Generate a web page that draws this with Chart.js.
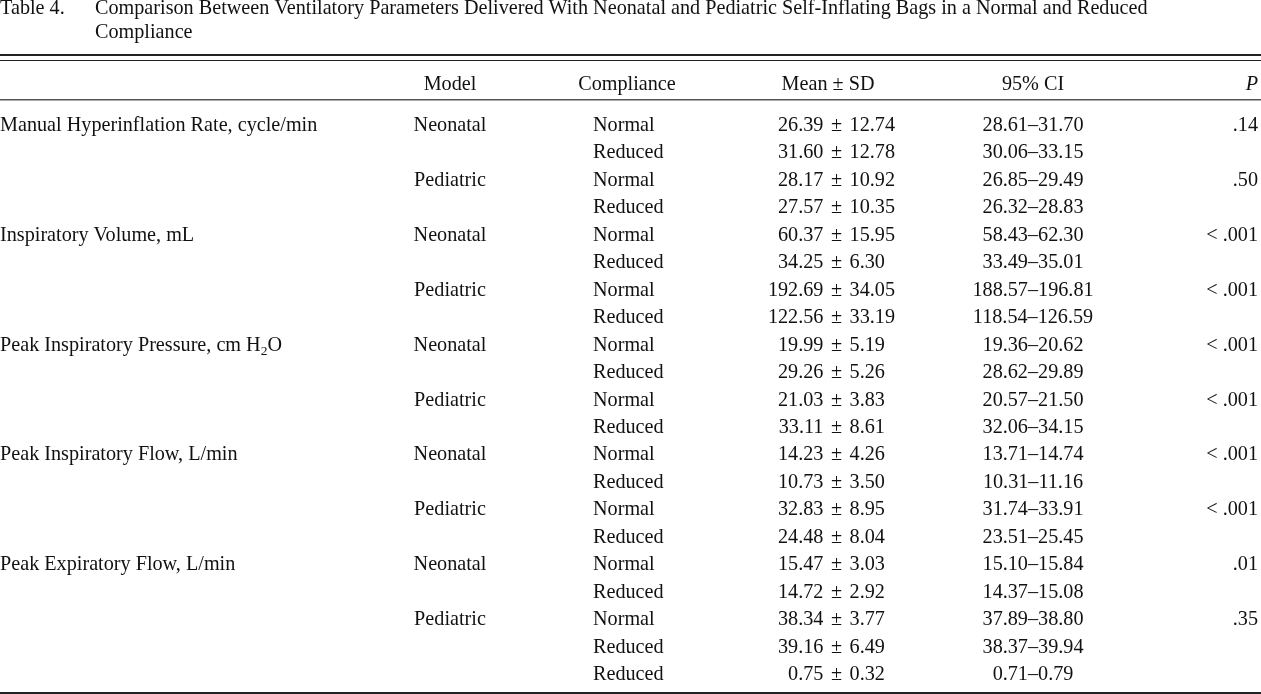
<!DOCTYPE html>
<html>
<head>
<meta charset="utf-8">
<title>Table 4</title>
<script src="https://cdn.jsdelivr.net/npm/chart.js@4"></script>
<style>
  html, body { margin: 0; padding: 0; background: #fff; }
  #wrap { width: 1261px; height: 694px; position: relative; }
</style>
</head>
<body>
<div id="wrap"><canvas id="tableChart"></canvas></div>
<script>
// --- table data ---
var titleLabel = 'Table 4.';
var titleLines = [
    'Comparison Between Ventilatory Parameters Delivered With Neonatal and Pediatric Self-Inflating Bags in a Normal and Reduced',
    'Compliance'
];
var headers = ['', 'Model', 'Compliance', 'Mean \u00b1 SD', '95% CI', 'P'];
var params = [
    'Manual Hyperinflation Rate, cycle/min',
    'Inspiratory Volume, mL',
    'Peak Inspiratory Pressure, cm H2O',
    'Peak Inspiratory Flow, L/min',
    'Peak Expiratory Flow, L/min'
];
var models = ['Neonatal', 'Pediatric'];
var compliances = ['Normal', 'Reduced'];

// one entry per table row
var rowParam      = [0, 0, 0, 0, 1, 1, 1, 1, 2, 2, 2, 2, 3, 3, 3, 3, 4, 4, 4, 4, 4];
var rowModel      = [0, 0, 1, 1, 0, 0, 1, 1, 0, 0, 1, 1, 0, 0, 1, 1, 0, 0, 1, 1, 1];
var rowCompliance = [0, 1, 0, 1, 0, 1, 0, 1, 0, 1, 0, 1, 0, 1, 0, 1, 0, 1, 0, 1, 1];
var means  = [26.39, 31.60, 28.17, 27.57, 60.37, 34.25, 192.69, 122.56, 19.99, 29.26, 21.03, 33.11, 14.23, 10.73, 32.83, 24.48, 15.47, 14.72, 38.34, 39.16, 0.75];
var sds    = [12.74, 12.78, 10.92, 10.35, 15.95, 6.30, 34.05, 33.19, 5.19, 5.26, 3.83, 8.61, 4.26, 3.50, 8.95, 8.04, 3.03, 2.92, 3.77, 6.49, 0.32];
var ciLow  = [28.61, 30.06, 26.85, 26.32, 58.43, 33.49, 188.57, 118.54, 19.36, 28.62, 20.57, 32.06, 13.71, 10.31, 31.74, 23.51, 15.10, 14.37, 37.89, 38.37, 0.71];
var ciHigh = [31.70, 33.15, 29.49, 28.83, 62.30, 35.01, 196.81, 126.59, 20.62, 29.89, 21.50, 34.15, 14.74, 11.16, 33.91, 25.45, 15.84, 15.08, 38.80, 39.94, 0.79];
// one P value per parameter/model group
var pValues = ['.14', '.50', '< .001', '< .001', '< .001', '< .001', '< .001', '< .001', '.01', '.35'];

// --- layout (x in table units, y in row units) ---
var FONT = '20.2px "Liberation Serif", "Times New Roman", serif';
var ITALIC = 'italic ' + FONT;
var col = { param: 0, model: 450, compl: 593, complHead: 627, meanHead: 828, pm: 836.5, pmGap: 2.5, ci: 1033, pRight: 1258, title: 95 };
var rowPos = { title1: -4.26, title2: -3.38, rule1: -2.76, rule2: -2.56, header: -1.51, rule3: -1.13, bottom: 20.47 };

var tablePlugin = {
    id: 'tableText',
    afterDraw: function(chart) {
        var ctx = chart.ctx;
        var xs = chart.scales.x, ys = chart.scales.y;
        var X = function(v) { return xs.getPixelForValue(v); };
        var Y = function(v) { return ys.getPixelForValue(v); };

        ctx.save();
        ctx.fillStyle = '#111';
        ctx.font = FONT;
        ctx.textBaseline = 'alphabetic';

        function text(s, x, y, align) {
            ctx.textAlign = align || 'left';
            ctx.fillText(s, x, y);
        }

        // title
        text(titleLabel, X(0), Y(rowPos.title1));
        text(titleLines[0], X(col.title), Y(rowPos.title1));
        text(titleLines[1], X(col.title), Y(rowPos.title2));

        // rules
        function rule(r, w) {
            ctx.fillRect(X(0), Math.round(Y(r) - w / 2), X(1261) - X(0), w);
        }
        ctx.fillStyle = '#222';
        rule(rowPos.rule1, 2);
        rule(rowPos.rule2, 1);
        ctx.fillStyle = '#555';
        rule(rowPos.rule3, 1.5);
        ctx.fillStyle = '#222';
        rule(rowPos.bottom, 2);
        ctx.fillStyle = '#111';

        // header
        var hy = Y(rowPos.header);
        text(headers[1], X(col.model), hy, 'center');
        text(headers[2], X(col.complHead), hy, 'center');
        text(headers[3], X(col.meanHead), hy, 'center');
        text(headers[4], X(col.ci), hy, 'center');
        ctx.font = ITALIC;
        text(headers[5], X(col.pRight), hy, 'right');
        ctx.font = FONT;

        // body
        var pmW = ctx.measureText('\u00b1').width;
        var group = -1;
        for (var i = 0; i < means.length; i++) {
            var y = Y(i);
            var firstOfParam = i === 0 || rowParam[i] !== rowParam[i - 1];
            var firstOfModel = firstOfParam || rowModel[i] !== rowModel[i - 1];
            if (firstOfParam) {
                var label = params[rowParam[i]];
                var sub = label.indexOf('H2O');
                if (sub >= 0) {
                    var pre = label.slice(0, sub + 1);
                    text(pre, X(col.param), y);
                    var px = X(col.param) + ctx.measureText(pre).width;
                    ctx.font = '13.5px "Liberation Serif", serif';
                    text('2', px, y + 4);
                    px += ctx.measureText('2').width;
                    ctx.font = FONT;
                    text('O', px, y);
                } else {
                    text(label, X(col.param), y);
                }
            }
            if (firstOfModel) {
                group++;
                text(models[rowModel[i]], X(col.model), y, 'center');
                text(pValues[group], X(col.pRight), y, 'right');
            }
            text(compliances[rowCompliance[i]], X(col.compl), y);

            var pmX = X(col.pm);
            text(means[i].toFixed(2) + ' ', pmX - pmW / 2 - col.pmGap, y, 'right');
            text('\u00b1', pmX, y, 'center');
            text(' ' + sds[i].toFixed(2), pmX + pmW / 2 + col.pmGap, y, 'left');

            text(ciLow[i].toFixed(2) + '\u2013' + ciHigh[i].toFixed(2), X(col.ci), y, 'center');
        }
        ctx.restore();
    }
};

var rowPitch = 27.45, firstBaseline = 131, H = 694;

var chart = new Chart(document.getElementById('tableChart').getContext('2d'), {
    type: 'scatter',
    data: { datasets: [{ data: [], pointRadius: 0 }] },
    options: {
        responsive: true,
        maintainAspectRatio: false,
        animation: false,
        layout: { padding: 0 },
        plugins: { legend: { display: false }, tooltip: { enabled: false } },
        scales: {
            x: { type: 'linear', display: false, min: 0, max: 1261 },
            y: { type: 'linear', display: false, reverse: true,
                 min: -firstBaseline / rowPitch, max: (H - firstBaseline) / rowPitch }
        }
    },
    plugins: [tablePlugin]
});
</script>
</body>
</html>
